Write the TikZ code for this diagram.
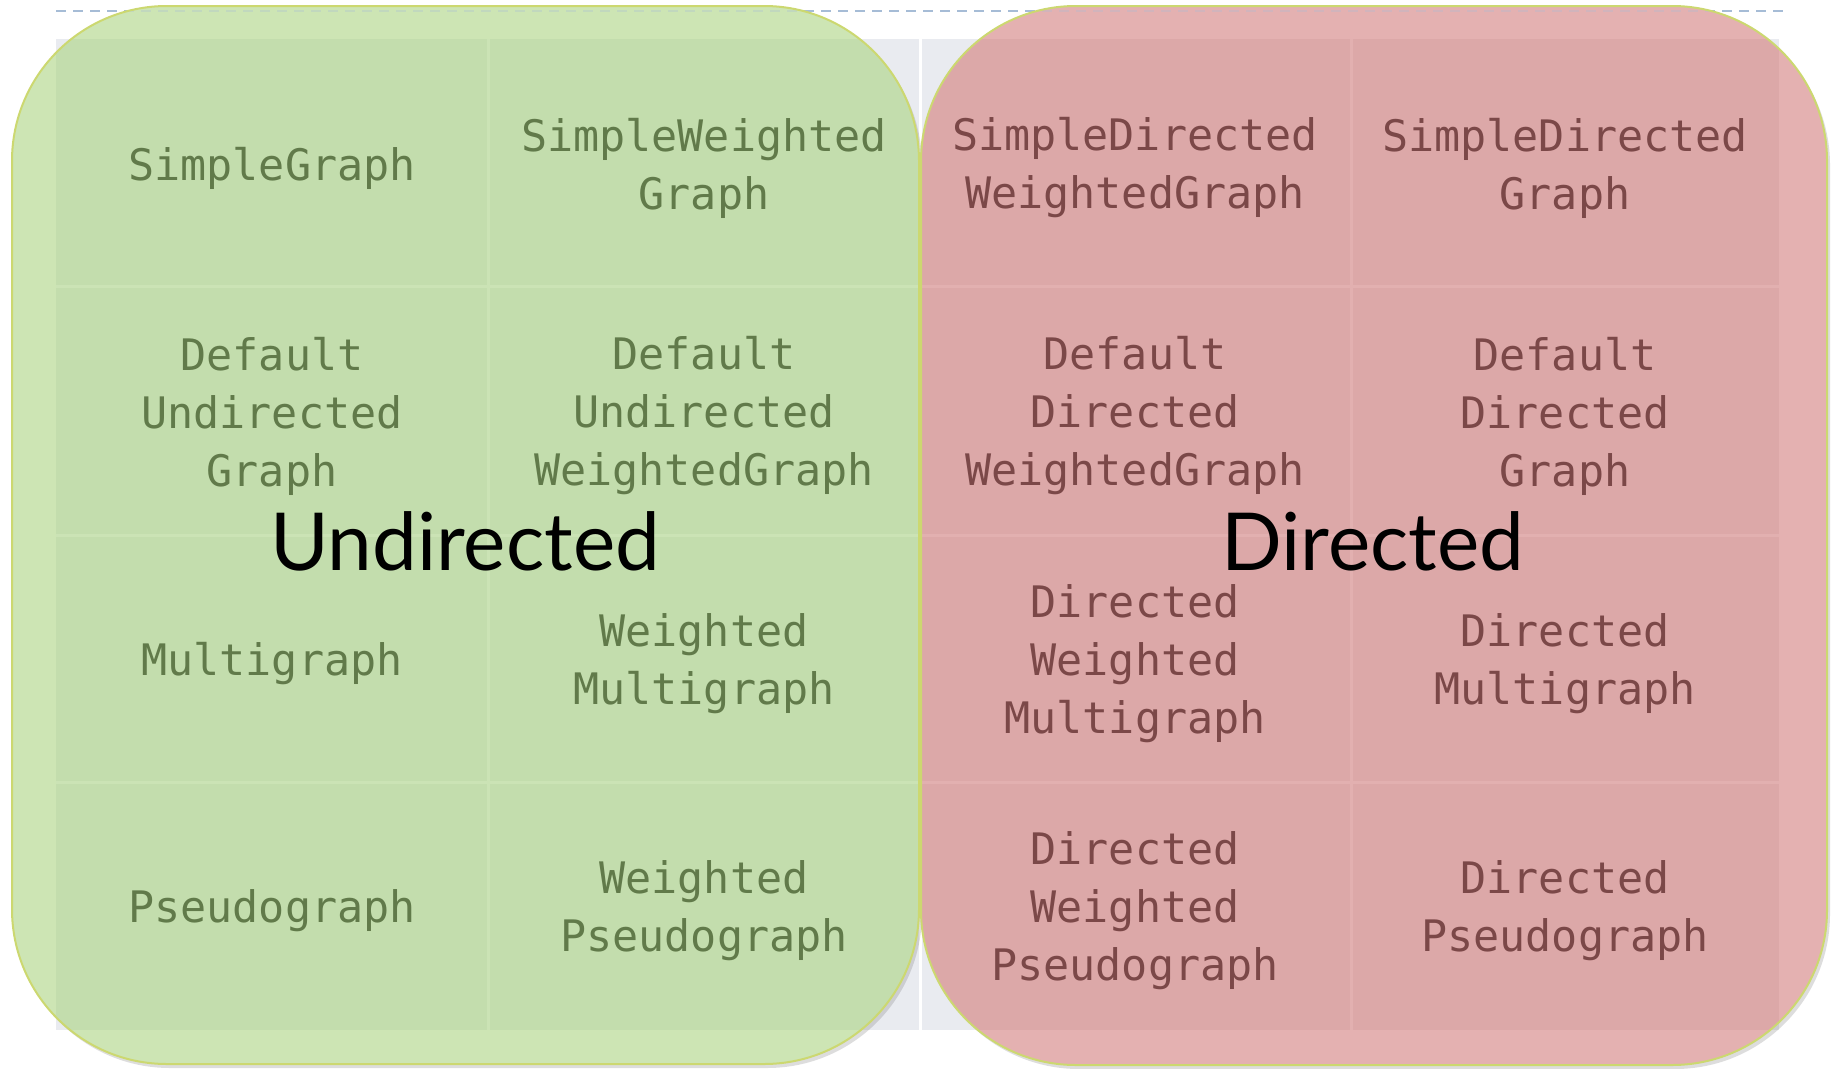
\documentclass[tikz,border=0pt]{standalone}
\usepackage{fontspec}
\newfontfamily\monofont{DejaVu Sans Mono}
\newfontfamily\labelfont{Lato}
\usetikzlibrary{shadows}
\definecolor{gOut}{HTML}{CDE5B4}
\definecolor{gIn}{HTML}{C3DDAD}
\definecolor{gLine}{HTML}{CBE3B5}
\definecolor{rOut}{HTML}{E4B1B1}
\definecolor{rIn}{HTML}{DCA8A8}
\definecolor{rLine}{HTML}{E2B0B0}
\definecolor{boxEdge}{HTML}{CCD870}
\definecolor{gText}{HTML}{617A4A}
\definecolor{rText}{HTML}{7B4848}
\definecolor{tableGrey}{HTML}{E9EBF0}
\definecolor{dashBlue}{HTML}{A6BCD6}
\begin{document}
\begin{tikzpicture}[x=1pt,y=-1pt,
  cell/.style={align=center, inner sep=0pt, font=\monofont\fontsize{43.4}{58}\selectfont},
  gtext/.style={cell, text=gText},
  rtext/.style={cell, text=rText},
  boxline/.style={draw=boxEdge, line width=2pt, rounded corners=155pt},
  boxshadow/.style={drop shadow={shadow xshift=3pt, shadow yshift=-4pt, opacity=0.22, fill=black!60}},
  grid/.style={line width=3pt},
  dashline/.style={draw=dashBlue, line width=1.5pt, dash pattern=on 10pt off 7pt},
  big/.style={anchor=base, inner sep=0pt, font=\labelfont\fontsize{80}{80}\selectfont}]

\fill[white] (0,0) rectangle (1835,1068);
\useasboundingbox (0,0) rectangle (1835,1068);

% top dashed rule
\coordinate (dl) at (56,11);
\coordinate (dr) at (1783,11);
\draw[dashline] (dl) -- (dr);

% table underneath
\fill[tableGrey] (56,39) rectangle (1779,1030);
\foreach \x in {488,920,1351} \draw[white, grid] (\x,39) -- (\x,1030);
\foreach \y in {286,535,782} \draw[white, grid] (56,\y) -- (1779,\y);

% green (undirected) box
\path[boxshadow, fill=gOut, rounded corners=155pt] (12,6) rectangle (919,1064);
\begin{scope}
  \clip[rounded corners=155pt] (12,6) rectangle (919,1064);
  \fill[gIn] (56,39) rectangle (1779,1030);
  \foreach \x in {488,920} \draw[gLine, grid] (\x,39) -- (\x,1030);
  \foreach \y in {286,535,782} \draw[gLine, grid] (56,\y) -- (1779,\y);
  \draw[dashline, opacity=0.3] (dl) -- (dr);
\end{scope}
\draw[boxline] (12,6) rectangle (919,1064);

% red (directed) box
\path[boxshadow, fill=rOut, rounded corners=155pt] (921,6) rectangle (1827,1065);
\begin{scope}
  \clip[rounded corners=155pt] (921,6) rectangle (1827,1065);
  \fill[rIn] (56,39) rectangle (1779,1030);
  \foreach \x in {920,1351} \draw[rLine, grid] (\x,39) -- (\x,1030);
  \foreach \y in {286,535,782} \draw[rLine, grid] (56,\y) -- (1779,\y);
  \draw[dashline, opacity=0.3] (dl) -- (dr);
\end{scope}
\draw[boxline] (921,6) rectangle (1827,1065);

% cell texts
\node[gtext] (c11) at (272,168) {SimpleGraph};
\node[gtext] (c12) at (704,168) {SimpleWeighted\\Graph};
\node[rtext] (c13) at (1135,168) {SimpleDirected\\WeightedGraph};
\node[rtext] (c14) at (1565,168) {SimpleDirected\\Graph};

\node[gtext] (c21) at (272,416) {Default\\Undirected\\Graph};
\node[gtext] (c22) at (704,416) {Default\\Undirected\\WeightedGraph};
\node[rtext] (c23) at (1135,416) {Default\\Directed\\WeightedGraph};
\node[rtext] (c24) at (1565,416) {Default\\Directed\\Graph};

\node[gtext] (c31) at (272,664) {Multigraph};
\node[gtext] (c32) at (704,664) {Weighted\\Multigraph};
\node[rtext] (c33) at (1135,664) {Directed\\Weighted\\Multigraph};
\node[rtext] (c34) at (1565,664) {Directed\\Multigraph};

\node[gtext] (c41) at (272,911) {Pseudograph};
\node[gtext] (c42) at (704,911) {Weighted\\Pseudograph};
\node[rtext] (c43) at (1135,911) {Directed\\Weighted\\Pseudograph};
\node[rtext] (c44) at (1565,911) {Directed\\Pseudograph};

% big labels
\node[big] (undir) at (465,570) {Undirected};
\node[big] (dir) at (1373,570) {Directed};
\end{tikzpicture}
\end{document}
